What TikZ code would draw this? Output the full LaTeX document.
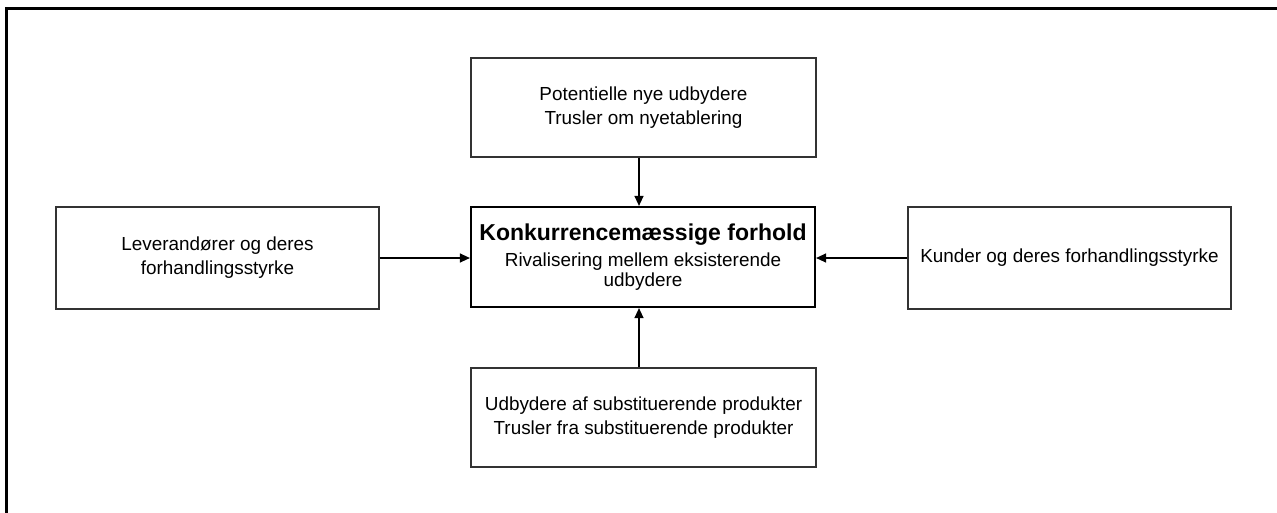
\documentclass[tikz,border=0pt]{standalone}
\usepackage{fontspec}
\setmainfont{Liberation Sans}
\usetikzlibrary{arrows.meta}
\definecolor{boxline}{HTML}{333333}
\tikzset{
  box/.style={draw=boxline, line width=1.2pt, rectangle, align=center, inner sep=0pt,
    font=\fontsize{18.9}{24}\selectfont},
  mainbox/.style={draw=black, line width=2.2pt, rectangle, align=center, inner sep=0pt,
    font=\fontsize{18.9}{20}\selectfont},
  conn/.style={line width=1.3pt, -{Triangle[length=10pt,width=9pt]}}
}
\begin{document}
\begin{tikzpicture}[x=1pt,y=-1pt]
\useasboundingbox (0,0) rectangle (1277,512);
\fill[white] (0,0) rectangle (1277,512);
\draw[line width=3pt] (6.5,520) -- (6.5,8.5) -- (1285,8.5);
\node[box, minimum width=345pt, minimum height=99pt] (top) at (643.5,107.5)
  {Potentielle nye udbydere\\Trusler om nyetablering};
\node[mainbox, minimum width=344pt, minimum height=100pt] (mid) at (643,257)
  {{\fontsize{23}{20}\selectfont\bfseries Konkurrencemæssige forhold}\\[6pt]Rivalisering mellem eksisterende\\udbydere};
\node[box, minimum width=345pt, minimum height=99pt] (bot) at (643.5,417.5)
  {Udbydere af substituerende produkter\\Trusler fra substituerende produkter};
\node[box, minimum width=323pt, minimum height=102pt] (left) at (217.5,258)
  {Leverandører og deres\\forhandlingsstyrke};
\node[box, minimum width=323pt, minimum height=102pt] (right) at (1069.5,258)
  {Kunder og deres forhandlingsstyrke};
\coordinate (ax) at (639,0);
\coordinate (ay) at (0,258);
\draw[conn] (top.south -| ax) -- (mid.north -| ax);
\draw[conn] (bot.north -| ax) -- (mid.south -| ax);
\draw[conn] (left.east |- ay) -- (mid.west |- ay);
\draw[conn] (right.west |- ay) -- (mid.east |- ay);
\end{tikzpicture}
\end{document}
